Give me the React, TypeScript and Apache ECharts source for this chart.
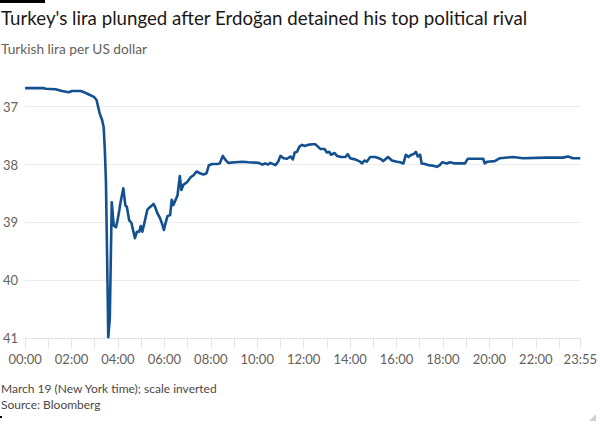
import React, { useEffect, useRef } from "react";
import * as echarts from "echarts";

const minutes = [
  0, 49, 53, 79, 95, 113, 121, 144, 152, 165, 178, 185, 189, 193, 199, 203, 206, 209, 211, 213,
  215, 219, 224, 229, 235, 239, 243, 247, 254, 259, 263, 269, 275, 279, 284, 289, 295, 299, 303, 309,
  316, 320, 327, 332, 336, 342, 349, 355, 359, 363, 368, 375, 379, 383, 389, 394, 400, 404, 409, 419,
  428, 436, 443, 452, 461, 469, 475, 484, 497, 503, 511, 518, 525, 544, 561, 578, 604, 613, 621, 628,
  634, 647, 654, 660, 668, 677, 686, 692, 697, 703, 709, 716, 723, 731, 742, 750, 757, 763, 774, 780,
  786, 791, 800, 806, 817, 828, 834, 840, 853, 866, 871, 877, 883, 892, 905, 918, 926, 938, 948, 961,
  969, 978, 984, 991, 998, 1004, 1010, 1015, 1021, 1025, 1034, 1042, 1055, 1064, 1072, 1078, 1090, 1098, 1111, 1137,
  1144, 1184, 1188, 1195, 1214, 1227, 1261, 1287, 1347, 1390, 1403, 1416, 1435,
];

const lira = [
  36.68, 36.68, 36.69, 36.70, 36.73, 36.75, 36.73, 36.73, 36.75, 36.79, 36.83, 36.89, 37.01, 37.12, 37.23, 37.35, 37.73, 38.30, 39.16, 40.03,
  40.98, 40.65, 38.65, 39.05, 39.08, 38.96, 38.81, 38.64, 38.41, 38.70, 38.73, 38.96, 39.01, 39.13, 39.27, 39.16, 39.16, 39.06, 39.16, 38.99,
  38.78, 38.75, 38.71, 38.68, 38.73, 38.84, 38.93, 39.04, 39.13, 39.01, 38.89, 38.87, 38.61, 38.70, 38.61, 38.53, 38.20, 38.44, 38.35, 38.30,
  38.22, 38.18, 38.12, 38.15, 38.17, 38.15, 38.01, 37.99, 37.99, 37.98, 37.85, 37.92, 37.97, 37.96, 37.95, 37.96, 37.97, 38.00, 37.98, 38.00,
  37.97, 38.01, 37.95, 37.85, 37.89, 37.90, 37.86, 37.91, 37.79, 37.78, 37.69, 37.66, 37.68, 37.66, 37.65, 37.65, 37.69, 37.73, 37.73, 37.79,
  37.78, 37.83, 37.80, 37.85, 37.87, 37.87, 37.82, 37.89, 37.91, 37.95, 37.98, 37.93, 37.95, 37.87, 37.87, 37.90, 37.94, 37.87, 37.93, 37.95,
  37.96, 37.98, 37.83, 37.87, 37.83, 37.82, 37.78, 37.86, 37.83, 37.98, 37.99, 38.01, 38.02, 38.04, 38.01, 37.96, 37.98, 37.96, 37.98, 37.98,
  37.90, 37.90, 37.98, 37.95, 37.94, 37.89, 37.87, 37.89, 37.88, 37.88, 37.86, 37.89, 37.89,
];

const yTicks = [37, 38, 39, 40, 41];
const xTickMinutes = [0, 60, 120, 180, 240, 300, 360, 420, 480, 540, 600, 660, 720, 780, 840, 900, 960, 1020, 1080, 1140, 1200, 1260, 1320, 1380, 1435];
const xLabelMinutes = [0, 120, 240, 360, 480, 600, 720, 840, 960, 1080, 1200, 1320, 1435];

const titleText = "Turkey's lira plunged after Erdoğan detained his top political rival";
const subtitleText = "Turkish lira per US dollar";
const noteText = "March 19 (New York time); scale inverted";
const sourceText = "Source: Bloomberg";

const pad = (n: number) => (n < 10 ? "0" + n : "" + n);
const fmtTime = (m: number) => pad(Math.floor(m / 60)) + ":" + pad(Math.round(m % 60));

export default function App() {
  const ref = useRef<HTMLDivElement>(null);
  useEffect(() => {
    if (!ref.current) return;
    const chart = echarts.init(ref.current, null, { renderer: "svg" });
    const font = "Lato, 'Open Sans', sans-serif";
    chart.setOption({
      animation: false,
      backgroundColor: "#ffffff",
      grid: { left: 24, right: 19.4, top: 83.5, bottom: 89.7, containLabel: false },
      xAxis: {
        type: "value",
        min: 0,
        max: 1435,
        axisLine: { show: true, lineStyle: { color: "#e3e3e3", width: 1 } },
        axisTick: { show: true, length: 10, customValues: xTickMinutes, lineStyle: { color: "#e3e3e3" } },
        axisLabel: {
          customValues: xLabelMinutes,
          formatter: (v: number) => fmtTime(v),
          color: "#66605c",
          fontFamily: font,
          fontSize: 13,
          margin: 14,
        },
        splitLine: { show: false },
      },
      yAxis: {
        type: "value",
        inverse: true,
        min: 36.6,
        max: 41,
        axisLine: { show: false },
        axisTick: { show: false, customValues: yTicks },
        axisLabel: {
          customValues: yTicks,
          color: "#66605c",
          fontFamily: font,
          fontSize: 13,
          margin: 7,
        },
        splitLine: { show: true, lineStyle: { color: "#ececec", width: 1 } },
      },
      series: [
        {
          type: "line",
          data: minutes.map((m, i) => [m, lira[i]]),
          showSymbol: false,
          symbol: "none",
          lineStyle: { color: "#13508f", width: 2.6, join: "round" },
          z: 3,
        },
      ],
      graphic: [
        { type: "rect", left: 0, top: 0, shape: { width: 45, height: 3 }, style: { fill: "#000" } },
        {
          type: "text",
          left: 1,
          top: 8,
          style: { text: titleText, fill: "#1a1817", font: "18.7px " + font },
        },
        {
          type: "text",
          left: 1,
          top: 41,
          style: { text: subtitleText, fill: "#66605c", font: "13.7px " + font },
        },
        {
          type: "text",
          left: 1,
          top: 382,
          style: { text: noteText, fill: "#4d4845", font: "12px " + font },
        },
        {
          type: "text",
          left: 1,
          top: 398,
          style: { text: sourceText, fill: "#4d4845", font: "12px " + font },
        },
        { type: "rect", left: 0, top: 416, shape: { width: 2, height: 2 }, style: { fill: "#000" } },
        {
          type: "polygon",
          shape: { points: [[596, 414], [596, 421], [589, 421]] },
          style: { fill: "#cfcfcf" },
        },
      ],
    });
    return () => chart.dispose();
  }, []);
  return (
    <div
      ref={ref}
      style={{ position: "absolute", left: 0, top: 0, width: 600, height: 428, background: "#fff" }}
    />
  );
}
